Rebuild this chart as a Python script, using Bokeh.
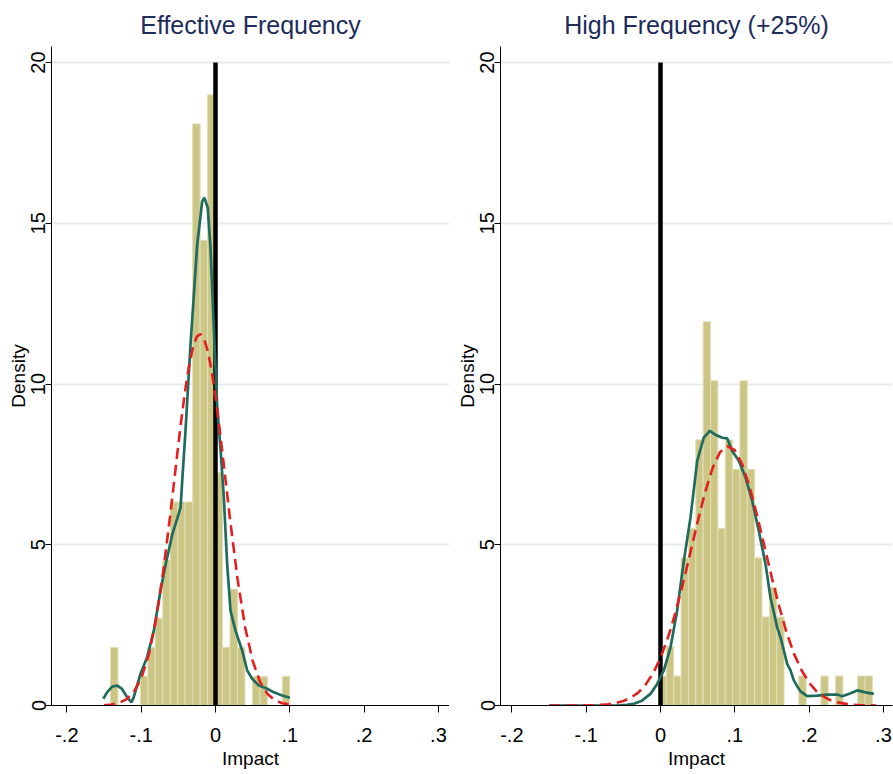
from bokeh.plotting import figure
from bokeh.layouts import row
from bokeh.models import FixedTicker, Range1d
from bokeh.embed import file_html
from bokeh.resources import INLINE

# ---------------- data ----------------
N_OBS = 110

# Histogram: "Effective Frequency"
EFF_BIN_START = -0.1413
EFF_BIN_WIDTH = 0.01005
EFF_COUNTS = [2, 0, 0, 0, 1, 2, 3, 5, 7, 7, 7, 20, 16, 21, 8, 2, 4, 2, 0, 1, 1, 0, 0, 1]

# Histogram: "High Frequency (+25%)"
HIGH_BIN_START = -0.002
HIGH_BIN_WIDTH = 0.0099
HIGH_COUNTS = [1, 2, 1, 5, 6, 9, 13, 11, 6, 9, 8, 11, 8, 5, 3, 4, 3, 0, 0, 1, 0, 0, 1, 0, 1, 0, 0, 1, 1]

# Kernel density (green) - Effective Frequency
EFF_KDE_X = [-0.151, -0.146, -0.139, -0.132, -0.126, -0.119, -0.113, -0.110, -0.101, -0.092,
             -0.083, -0.074, -0.067, -0.058, -0.051, -0.047, -0.0448, -0.0404, -0.0336, -0.0246,
             -0.0179, -0.0150, -0.0104, -0.0067, -0.0023, 0.0023, 0.0067, 0.0112, 0.0157, 0.0202,
             0.0269, 0.0359, 0.0427, 0.0494, 0.0583, 0.0696, 0.0785, 0.0897, 0.100]
EFF_KDE_Y = [0.21, 0.41, 0.59, 0.62, 0.52, 0.26, 0.10, 0.26, 0.98, 1.50,
             2.33, 3.57, 4.40, 5.33, 5.85, 6.16, 6.99, 8.54, 11.23, 14.34,
             15.68, 15.80, 15.48, 14.23, 11.75, 9.30, 8.00, 6.47, 4.40, 2.95,
             2.33, 1.71, 1.09, 0.83, 0.62, 0.52, 0.41, 0.31, 0.24]

# Normal density (red dashed) - Effective Frequency
EFF_NORM_X = [-0.15, -0.14, -0.13, -0.12, -0.11, -0.10, -0.09, -0.08, -0.07, -0.06, -0.055,
              -0.05, -0.045, -0.04, -0.035, -0.03, -0.025, -0.02, -0.015, -0.01, -0.005,
              0.0, 0.005, 0.01, 0.02, 0.03, 0.04, 0.05, 0.06, 0.07, 0.08, 0.09, 0.10]
EFF_NORM_Y = [0.01, 0.03, 0.08, 0.19, 0.42, 0.84, 1.56, 2.68, 4.22, 6.10, 7.11,
              8.12, 9.07, 9.93, 10.64, 11.17, 11.48, 11.55, 11.38, 10.99, 10.38,
              9.61, 8.70, 7.72, 5.71, 3.88, 2.42, 1.39, 0.73, 0.36, 0.16, 0.07, 0.03]

# Kernel density (green) - High Frequency
HIGH_KDE_X = [-0.15, -0.10, -0.06, -0.045, -0.035, -0.025, -0.0135, -0.0045, 0.0045, 0.0135,
              0.0224, 0.0314, 0.0404, 0.0494, 0.0583, 0.0664, 0.074, 0.083, 0.0897, 0.0965,
              0.1054, 0.1144, 0.1234, 0.1323, 0.1413, 0.148, 0.157, 0.1615, 0.166, 0.1705,
              0.175, 0.1794, 0.184, 0.1884, 0.1974, 0.211, 0.2244, 0.2378, 0.2445, 0.2534,
              0.2647, 0.2759, 0.287]
HIGH_KDE_Y = [0.0, 0.0, 0.0, 0.02, 0.06, 0.15, 0.36, 0.67, 1.09, 1.81,
              2.95, 4.50, 5.85, 7.61, 8.33, 8.54, 8.42, 8.33, 8.31, 7.92,
              7.61, 7.09, 6.37, 5.43, 4.40, 3.36, 2.43, 2.12, 1.71, 1.29,
              1.09, 0.78, 0.60, 0.44, 0.29, 0.31, 0.34, 0.34, 0.29, 0.36,
              0.47, 0.41, 0.36]

# Normal density (red dashed) - High Frequency
HIGH_NORM_X = [-0.15, -0.14, -0.13, -0.12, -0.11, -0.10, -0.09, -0.08, -0.07, -0.06, -0.05,
               -0.04, -0.03, -0.02, -0.01, 0.0, 0.01, 0.02, 0.03, 0.04, 0.05, 0.06, 0.07,
               0.08, 0.09, 0.10, 0.11, 0.12, 0.13, 0.14, 0.15, 0.16, 0.17, 0.18, 0.19, 0.20,
               0.21, 0.22, 0.23, 0.24, 0.25, 0.26, 0.27, 0.28, 0.29]
HIGH_NORM_Y = [0.0, 0.0, 0.0, 0.0, 0.0, 0.005, 0.01, 0.02, 0.04, 0.08, 0.14,
               0.24, 0.40, 0.65, 1.00, 1.48, 2.11, 2.88, 3.77, 4.74, 5.72, 6.63, 7.38,
               7.88, 8.07, 7.94, 7.50, 6.80, 5.91, 4.94, 3.96, 3.05, 2.25, 1.59, 1.09, 0.71,
               0.44, 0.27, 0.15, 0.09, 0.05, 0.02, 0.01, 0.005, 0.0]

REF_LINE_X = 0.0
REF_LINE_TOP = 20

X_TICKS = [-0.2, -0.1, 0.0, 0.1, 0.2, 0.3]
X_TICK_LABELS = ["-.2", "-.1", "0", ".1", ".2", ".3"]
Y_TICKS = [0, 5, 10, 15, 20]
Y_TICK_LABELS = ["0", "5", "10", "15", "20"]

TITLES = ["Effective Frequency", "High Frequency (+25%)"]
X_LABEL = "Impact"
Y_LABEL = "Density"

# ---------------- styling ----------------
FONT = "Liberation Sans"
BAR_FILL = "#ccc686"
BAR_LINE = "#e2dfb6"
KDE_COLOR = "#1f6b5d"
NORM_COLOR = "#e3201f"
TITLE_COLOR = "#1e2c5c"
GRID_COLOR = "#e4ebef"


def make_panel(title, bin_start, bin_width, counts, kde_x, kde_y, norm_x, norm_y,
               x_range, width, border_left, border_right):
    p = figure(width=width, height=774, output_backend="svg", toolbar_location=None,
               x_range=Range1d(*x_range), y_range=Range1d(0, 20.5),
               min_border_left=border_left, min_border_right=border_right,
               min_border_top=45, min_border_bottom=69)
    p.outline_line_color = None
    p.background_fill_color = "white"

    left, right, top = [], [], []
    for k, c in enumerate(counts):
        if c > 0:
            left.append(bin_start + k * bin_width)
            right.append(bin_start + (k + 1) * bin_width)
            top.append(c / (N_OBS * bin_width))
    p.quad(left=left, right=right, bottom=0, top=top, fill_color=BAR_FILL,
           line_color=BAR_LINE, line_width=1)

    p.segment(x0=[REF_LINE_X], y0=[0], x1=[REF_LINE_X], y1=[REF_LINE_TOP],
              line_color="black", line_width=4.5)

    p.line(kde_x, kde_y, line_color=KDE_COLOR, line_width=2.7)
    p.line(norm_x, norm_y, line_color=NORM_COLOR, line_width=2.6, line_dash="11 6")

    p.title.text = title
    p.title.align = "center"
    p.title.text_font = FONT
    p.title.text_font_size = "25px"
    p.title.text_font_style = "normal"
    p.title.text_color = TITLE_COLOR
    p.title.standoff = 16

    p.xgrid.visible = False
    p.ygrid.ticker = FixedTicker(ticks=Y_TICKS[1:])
    p.ygrid.grid_line_color = GRID_COLOR
    p.ygrid.grid_line_width = 2

    xa = p.xaxis[0]
    xa.ticker = FixedTicker(ticks=X_TICKS)
    xa.major_label_overrides = {t: l for t, l in zip(X_TICKS, X_TICK_LABELS)}
    xa.axis_label = X_LABEL
    ya = p.yaxis[0]
    ya.ticker = FixedTicker(ticks=Y_TICKS)
    ya.major_label_overrides = {t: l for t, l in zip(Y_TICKS, Y_TICK_LABELS)}
    ya.axis_label = Y_LABEL
    ya.major_label_orientation = "vertical"
    for ax in (xa, ya):
        ax.minor_tick_line_color = None
        ax.major_tick_in = 0
        ax.major_tick_out = 6
        ax.axis_line_color = "black"
        ax.major_tick_line_color = "black"
        ax.major_label_text_font = FONT
        ax.major_label_text_font_size = "20px"
        ax.major_label_text_color = "black"
        ax.axis_label_text_font = FONT
        ax.axis_label_text_font_size = "19px"
        ax.axis_label_text_font_style = "normal"
        ax.axis_label_text_color = "black"
        ax.major_label_standoff = 0
        ax.axis_label_standoff = 0
    xa.major_tick_out = 7
    xa.major_label_standoff = 15
    xa.axis_label_standoff = 3
    return p


p1 = make_panel(TITLES[0], EFF_BIN_START, EFF_BIN_WIDTH, EFF_COUNTS, EFF_KDE_X, EFF_KDE_Y,
                EFF_NORM_X, EFF_NORM_Y, (-0.2207, 0.3149), 449, 51, 0)
p2 = make_panel(TITLES[1], HIGH_BIN_START, HIGH_BIN_WIDTH, HIGH_COUNTS, HIGH_KDE_X, HIGH_KDE_Y,
                HIGH_NORM_X, HIGH_NORM_Y, (-0.2153, 0.3122), 444, 51, 1)

layout = row(p1, p2)
open("out.html", "w").write(file_html(layout, INLINE))
